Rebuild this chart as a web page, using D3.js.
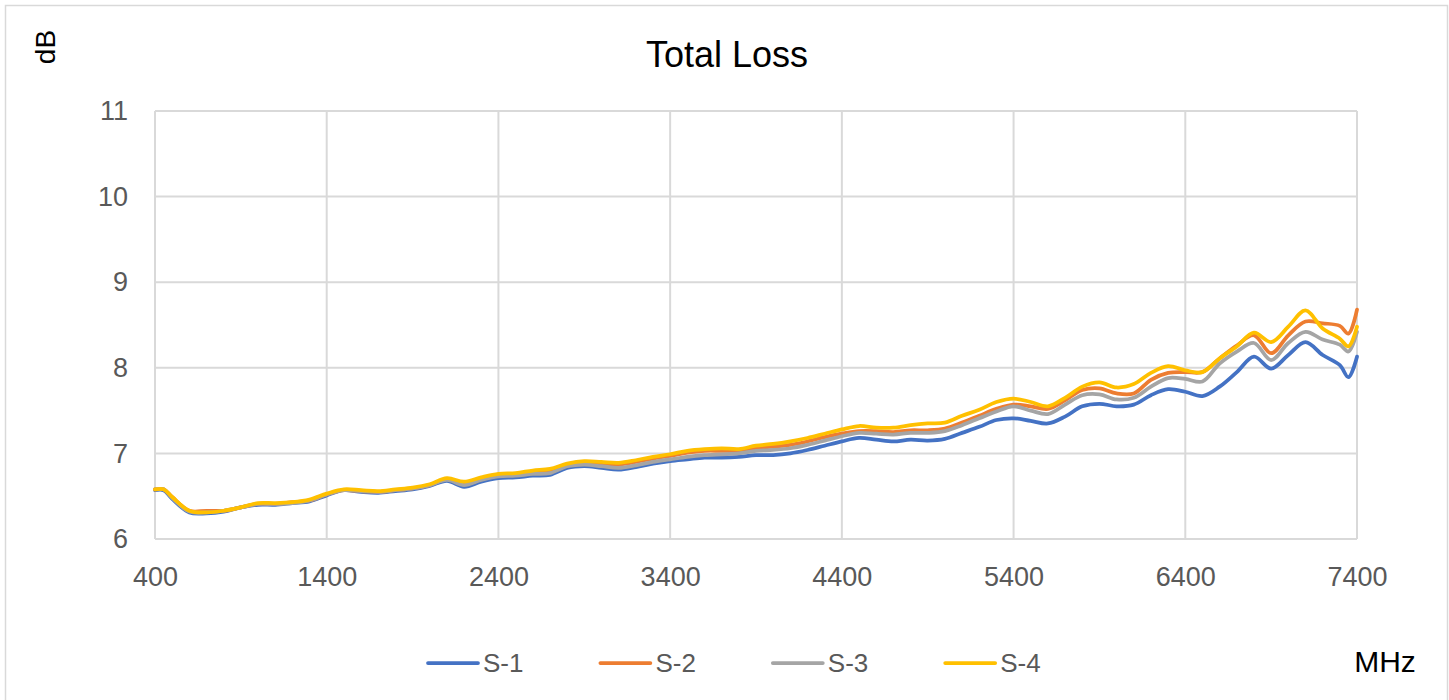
<!DOCTYPE html>
<html>
<head>
<meta charset="utf-8">
<script src="https://cdn.jsdelivr.net/npm/d3@7"></script>
<style>
  html, body { margin: 0; padding: 0; background: #fff; }
  svg { display: block; font-family: "Liberation Sans", Arial, sans-serif; }
</style>
</head>
<body>
<svg id="chart" width="1449" height="700"></svg>
<script>
const freq = [400,450,500,600,700,800,900,1000,1100,1200,1300,1400,1500,1600,1700,1800,1900,2000,2100,2200,2300,2400,2500,2600,2700,2800,2900,3000,3100,3200,3300,3400,3500,3600,3700,3800,3900,4000,4100,4200,4300,4400,4500,4600,4700,4800,4900,5000,5100,5200,5300,5400,5500,5600,5700,5800,5900,6000,6100,6200,6300,6400,6500,6600,6700,6800,6900,7000,7100,7200,7300,7350,7400];

const s1 = [6.57,6.57,6.47,6.31,6.30,6.32,6.37,6.40,6.40,6.42,6.44,6.51,6.57,6.55,6.54,6.56,6.58,6.62,6.68,6.61,6.67,6.71,6.72,6.74,6.75,6.83,6.85,6.83,6.81,6.84,6.88,6.91,6.93,6.95,6.95,6.96,6.98,6.98,7.00,7.04,7.09,7.14,7.18,7.16,7.14,7.16,7.15,7.17,7.24,7.31,7.39,7.41,7.38,7.35,7.43,7.55,7.58,7.55,7.57,7.68,7.75,7.72,7.67,7.78,7.95,8.13,7.99,8.15,8.30,8.15,8.03,7.89,8.13];
const s2 = [6.58,6.58,6.49,6.33,6.33,6.33,6.37,6.41,6.41,6.43,6.45,6.52,6.57,6.56,6.55,6.57,6.59,6.63,6.70,6.65,6.70,6.74,6.75,6.78,6.80,6.86,6.89,6.88,6.87,6.90,6.94,6.97,7.01,7.03,7.03,7.03,7.06,7.08,7.10,7.14,7.19,7.23,7.26,7.26,7.25,7.27,7.27,7.29,7.36,7.44,7.52,7.57,7.55,7.52,7.62,7.74,7.76,7.70,7.70,7.86,7.94,7.95,7.95,8.11,8.26,8.38,8.17,8.38,8.54,8.52,8.49,8.40,8.68];
const s3 = [6.58,6.58,6.48,6.32,6.31,6.33,6.37,6.41,6.41,6.42,6.45,6.52,6.57,6.56,6.55,6.57,6.59,6.63,6.69,6.63,6.69,6.73,6.74,6.76,6.77,6.85,6.87,6.85,6.83,6.86,6.90,6.93,6.96,6.98,6.99,7.00,7.03,7.04,7.06,7.10,7.15,7.20,7.24,7.23,7.22,7.24,7.24,7.26,7.33,7.41,7.49,7.55,7.50,7.46,7.57,7.68,7.69,7.63,7.65,7.78,7.88,7.87,7.84,8.05,8.19,8.29,8.09,8.29,8.42,8.33,8.27,8.19,8.42];
const s4 = [6.58,6.58,6.49,6.33,6.31,6.33,6.37,6.42,6.42,6.43,6.46,6.53,6.58,6.57,6.56,6.58,6.60,6.64,6.71,6.67,6.72,6.76,6.77,6.80,6.82,6.88,6.91,6.90,6.89,6.92,6.96,6.99,7.03,7.05,7.06,7.05,7.09,7.11,7.14,7.18,7.23,7.28,7.32,7.30,7.30,7.33,7.35,7.36,7.44,7.51,7.60,7.64,7.60,7.55,7.65,7.78,7.83,7.77,7.81,7.94,8.02,7.97,7.95,8.11,8.25,8.41,8.30,8.48,8.67,8.46,8.34,8.25,8.48];

const seriesNames = ["S-1","S-2","S-3","S-4"];
const seriesValues = [s1, s2, s3, s4];
const seriesColors = ["#4472C4","#ED7D31","#A5A5A5","#FFC000"];
const xTicks = [400,1400,2400,3400,4400,5400,6400,7400];
const yTicks = [6,7,8,9,10,11];

const svg = d3.select("#chart");
const W = 1449, H = 700;
const plot = {left: 155, right: 1357, top: 111, bottom: 539};

// outer chart border
svg.append("rect").attr("x", 5.5).attr("y", 5.5).attr("width", W - 7).attr("height", H)
  .attr("fill", "#fff").attr("stroke", "#d9d9d9").attr("stroke-width", 1.5);

const x = d3.scaleLinear().domain([400, 7400]).range([plot.left, plot.right]);
const y = d3.scaleLinear().domain([6, 11]).range([plot.bottom, plot.top]);

// gridlines
const grid = svg.append("g");
grid.selectAll("line.h").data(yTicks).join("line")
  .attr("x1", plot.left).attr("x2", plot.right)
  .attr("y1", d => y(d)).attr("y2", d => y(d))
  .attr("stroke", "#d9d9d9").attr("stroke-width", 2);
grid.selectAll("line.v").data(xTicks).join("line")
  .attr("y1", plot.top).attr("y2", plot.bottom)
  .attr("x1", d => x(d)).attr("x2", d => x(d))
  .attr("stroke", "#d9d9d9").attr("stroke-width", 2);

// axes (labels only)
const xAxis = d3.axisBottom(x).tickValues(xTicks).tickSize(0).tickPadding(28).tickFormat(d3.format("d"));
const gx = svg.append("g").attr("transform", `translate(0,${plot.bottom})`).call(xAxis);
gx.select(".domain").remove();
gx.selectAll("text").attr("fill", "#595959").style("font-size", "27px").style("font-family", "'Liberation Sans', Arial, sans-serif");

const yAxis = d3.axisLeft(y).tickValues(yTicks).tickSize(0).tickPadding(27).tickFormat(d3.format("d"));
const gy = svg.append("g").attr("transform", `translate(${plot.left},0)`).call(yAxis);
gy.select(".domain").remove();
gy.selectAll("text").attr("fill", "#595959").style("font-size", "27px").style("font-family", "'Liberation Sans', Arial, sans-serif");

// lines
const line = d3.line().curve(d3.curveCatmullRom.alpha(0.5))
  .x((d, i) => x(freq[i])).y(d => y(d));
seriesValues.forEach((vals, k) => {
  svg.append("path").datum(vals)
    .attr("fill", "none").attr("stroke", seriesColors[k])
    .attr("stroke-width", 3.75).attr("stroke-linejoin", "round").attr("stroke-linecap", "round")
    .attr("d", line);
});

// title
svg.append("text").attr("x", 727).attr("y", 67).attr("text-anchor", "middle")
  .style("font-size", "36px").attr("fill", "#000").text("Total Loss");

// y axis title
svg.append("text").attr("transform", "translate(55,47) rotate(-90)").attr("text-anchor", "middle")
  .style("font-size", "28px").attr("fill", "#000").text("dB");

// x axis title
svg.append("text").attr("x", 1385).attr("y", 672).attr("text-anchor", "middle")
  .style("font-size", "30px").attr("fill", "#000").text("MHz");

// legend
const legend = svg.append("g");
seriesNames.forEach((name, k) => {
  const lx = 428 + k * 172.4;
  legend.append("line").attr("x1", lx).attr("x2", lx + 50).attr("y1", 663).attr("y2", 663)
    .attr("stroke", seriesColors[k]).attr("stroke-width", 3.75).attr("stroke-linecap", "round");
  legend.append("text").attr("x", lx + 55).attr("y", 672).attr("fill", "#595959")
    .style("font-size", "26px").text(name);
});
</script>
</body>
</html>
